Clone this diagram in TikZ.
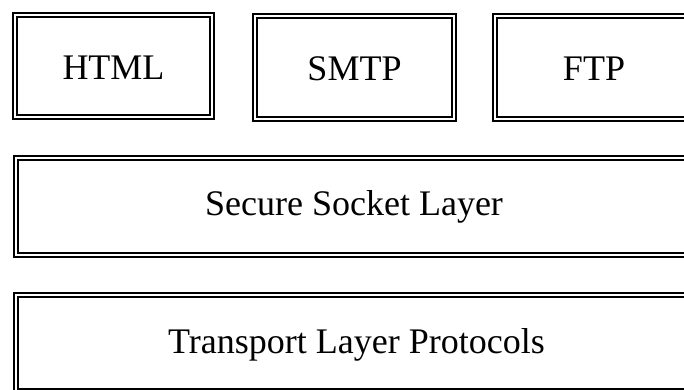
\documentclass[tikz,border=0pt]{standalone}
\usepackage{fontspec}
\setmainfont{Liberation Serif}
\begin{document}
\begin{tikzpicture}[x=1pt,y=-1pt,
  layerbox/.style={draw=black, line width=2.1pt, double=white, double distance=2pt,
    inner sep=0pt, font=\fontsize{36}{40}\selectfont, fill=white}]
\useasboundingbox (0,0) rectangle (684,389);
\clip (0,0) rectangle (684,389);
\node[layerbox, minimum width=197pt, minimum height=102pt, text height=26pt, text depth=0pt] (html) at (113.5,66) {HTML};
\node[layerbox, minimum width=199pt, minimum height=103pt, text height=25pt, text depth=0pt] (smtp) at (354.5,67.5) {SMTP\hspace{7pt}};
\node[layerbox, minimum width=198pt, minimum height=103pt, text height=25pt, text depth=0pt] (ftp) at (594,67.5) {FTP};
\node[layerbox, minimum width=676pt, minimum height=97pt, text height=24pt, text depth=7pt] (ssl) at (354,206.5) {Secure Socket Layer};
\node[layerbox, minimum width=681pt, minimum height=96pt, text height=26pt, text depth=6pt] (tlp) at (356.5,343) {Transport Layer Protocols};
\end{tikzpicture}
\end{document}
